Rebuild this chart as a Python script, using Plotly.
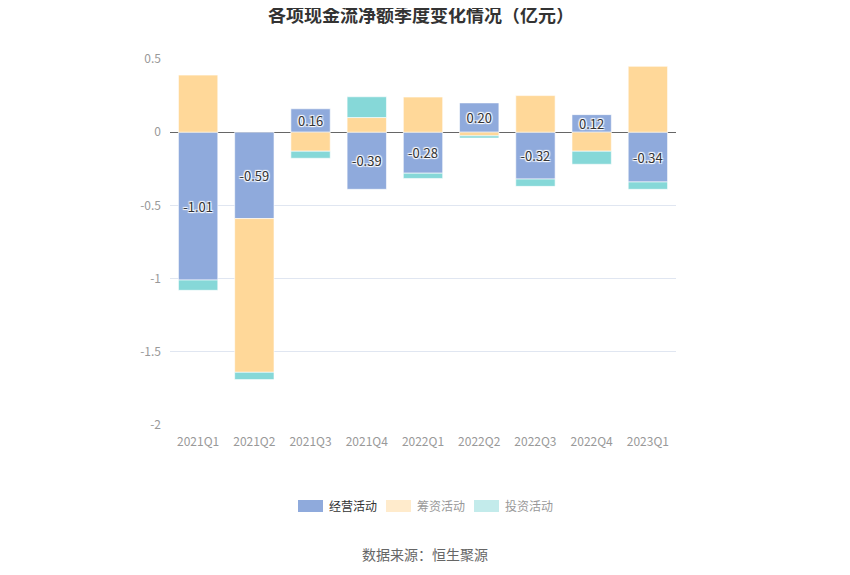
import plotly.graph_objects as go

categories = ["2021Q1", "2021Q2", "2021Q3", "2021Q4", "2022Q1", "2022Q2", "2022Q3", "2022Q4", "2023Q1"]
operating = [-1.01, -0.59, 0.16, -0.39, -0.28, 0.20, -0.32, 0.12, -0.34]
financing = [0.39, -1.05, -0.13, 0.10, 0.24, -0.025, 0.25, -0.13, 0.45]
investing = [-0.07, -0.05, -0.048, 0.142, -0.036, -0.015, -0.05, -0.089, -0.05]
y_ticks = [0.5, 0, -0.5, -1, -1.5, -2]
y_tick_labels = ["0.5", "0", "-0.5", "-1", "-1.5", "-2"]
legend_names = ["经营活动", "筹资活动", "投资活动"]

FONT = "Noto Sans CJK SC"
c_op, c_fin, c_inv = "#8FAADC", "#FFD899", "#86D8D8"

W, H = 850, 575
L, R, T, B = 162, 182, 51, 158
PW, PH = W - L - R, H - T - B
OFF = 8  # page body offset


def px_x(px):
    return (px - OFF - L) / PW


def px_y(py):
    return 1 - (py - OFF - T) / PH


fig = go.Figure()
line = dict(color="rgba(255,255,255,0.6)", width=1)
fig.add_trace(go.Bar(
    x=categories, y=operating, name=legend_names[0], marker_color=c_op, marker_line=line,
    text=[f"{v:.2f}" for v in operating], textposition="inside",
    insidetextanchor="middle", textangle=0,
    textfont=dict(family=FONT, size=13, color="#333",
                  shadow="1px 1px 1px #fff, -1px -1px 1px #fff, 1px -1px 1px #fff, -1px 1px 1px #fff"),
    showlegend=False))
fig.add_trace(go.Bar(x=categories, y=financing, name=legend_names[1], marker_color=c_fin,
                     marker_line=line, showlegend=False))
fig.add_trace(go.Bar(x=categories, y=investing, name=legend_names[2], marker_color=c_inv,
                     marker_line=line, showlegend=False))

# custom legend (swatches + labels)
shapes = []
annotations = []
legend_items = [(legend_names[0], c_op, "#333", 298), (legend_names[1], "#FFEBCC", "#999", 386),
                (legend_names[2], "#C3EBEB", "#999", 474)]
for nm, col, tc, x0 in legend_items:
    shapes.append(dict(type="rect", xref="paper", yref="paper",
                       x0=px_x(x0), x1=px_x(x0 + 25), y0=px_y(512), y1=px_y(500),
                       fillcolor=col, line=dict(width=0), layer="above"))
    annotations.append(dict(text=nm, xref="paper", yref="paper", x=px_x(x0 + 29), y=px_y(506),
                            xanchor="left", yanchor="middle", showarrow=False,
                            font=dict(family=FONT, size=12, color=tc)))
annotations.append(dict(text="数据来源：恒生聚源", xref="paper", yref="paper", x=px_x(425), y=px_y(554),
                        xanchor="center", yanchor="middle", showarrow=False,
                        font=dict(family=FONT, size=14, color="#666")))

fig.update_layout(
    width=W, height=H,
    barmode="relative", bargap=0.3,
    paper_bgcolor="white", plot_bgcolor="white",
    margin=dict(l=L, r=R, t=T, b=B),
    font=dict(family=FONT, size=12, color="#999"),
    title=dict(text="<b>各项现金流净额季度变化情况（亿元）</b>", x=px_x(421), xref="paper", xanchor="center",
               y=1 - 1 / H, yanchor="top", font=dict(family=FONT, size=18, color="#333")),
    showlegend=False,
    uniformtext=dict(minsize=12, mode="show"),
    xaxis=dict(showline=False, ticks="", tickfont=dict(size=12, color="#999"), ticklabelstandoff=8),
    yaxis=dict(range=[-2, 0.5], tickvals=y_ticks, ticktext=y_tick_labels,
               showgrid=True, gridcolor="#E0E6F1", zeroline=True, zerolinecolor="#666",
               zerolinewidth=1, tickfont=dict(size=12, color="#999"), ticks="",
               ticklabelstandoff=8),
    shapes=shapes,
    annotations=annotations,
)

fig.write_html("out.html")
